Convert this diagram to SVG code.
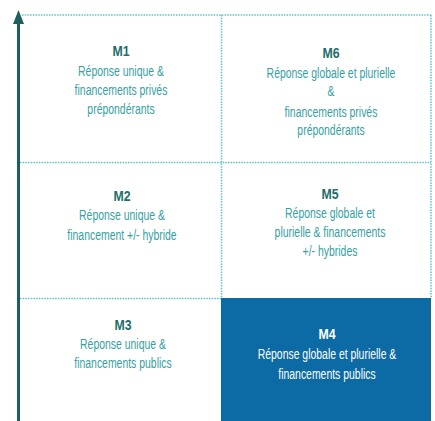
<svg xmlns="http://www.w3.org/2000/svg" width="435" height="421" viewBox="0 0 435 421">
  <style>
    .grid { stroke: #5fc2c6; stroke-width: 1.5; stroke-dasharray: 1.5 1.2; fill: none; }
    .t { font-family: "Liberation Sans", Arial, sans-serif; font-size: 14.5px; text-anchor: middle; fill: #35a1a3; }
    .h { font-weight: bold; fill: #1f6e6c; font-size: 14px; }
    .w { fill: #ffffff; }
  </style>
  <rect x="0" y="0" width="435" height="421" fill="#ffffff"/>
  <g id="grid">
    <line class="grid" x1="22" y1="15" x2="431" y2="15"/>
    <line class="grid" x1="20" y1="162.5" x2="431" y2="162.5"/>
    <line class="grid" x1="20" y1="298.5" x2="221" y2="298.5"/>
    <line class="grid" x1="221.5" y1="15" x2="221.5" y2="298"/>
    <line class="grid" x1="431" y1="15" x2="431" y2="298"/>
  </g>
  <g id="M1">
    <text class="t h" transform="translate(121 56) scale(0.88 1)">M1</text>
    <text class="t" transform="translate(121 76) scale(0.72 1)">Réponse unique &amp;</text>
    <text class="t" transform="translate(121 95) scale(0.72 1)">financements privés</text>
    <text class="t" transform="translate(121 114) scale(0.72 1)">prépondérants</text>
  </g>
  <g id="M6">
    <text class="t h" transform="translate(331 58) scale(0.88 1)">M6</text>
    <text class="t" transform="translate(331 78) scale(0.72 1)">Réponse globale et plurielle</text>
    <text class="t" transform="translate(331 96) scale(0.72 1)">&amp;</text>
    <text class="t" transform="translate(331 117) scale(0.72 1)">financements privés</text>
    <text class="t" transform="translate(331 135) scale(0.72 1)">prépondérants</text>
  </g>
  <g id="M2">
    <text class="t h" transform="translate(122 201) scale(0.88 1)">M2</text>
    <text class="t" transform="translate(122 220) scale(0.72 1)">Réponse unique &amp;</text>
    <text class="t" transform="translate(122 240) scale(0.72 1)">financement +/- hybride</text>
  </g>
  <g id="M5">
    <text class="t h" transform="translate(330 199) scale(0.88 1)">M5</text>
    <text class="t" transform="translate(330 218) scale(0.72 1)">Réponse globale et</text>
    <text class="t" transform="translate(330 237) scale(0.72 1)">plurielle &amp; financements</text>
    <text class="t" transform="translate(330 256) scale(0.72 1)">+/- hybrides</text>
  </g>
  <g id="M3">
    <text class="t h" transform="translate(123 330) scale(0.88 1)">M3</text>
    <text class="t" transform="translate(123 349) scale(0.72 1)">Réponse unique &amp;</text>
    <text class="t" transform="translate(123 368) scale(0.72 1)">financements publics</text>
  </g>
  <g id="M4">
    <rect x="221" y="298" width="210" height="123" fill="#0c6aa5"/>
    <text class="t h w" transform="translate(327 339) scale(0.88 1)">M4</text>
    <text class="t w" transform="translate(327 359) scale(0.72 1)">Réponse globale et plurielle &amp;</text>
    <text class="t w" transform="translate(327 379) scale(0.72 1)">financements publics</text>
  </g>
  <g id="connectors">
    <line x1="18.5" y1="421" x2="18.5" y2="22" stroke="#1c5f5b" stroke-width="3"/>
    <polygon points="18.5,10 13,24 24,24" fill="#1c5f5b"/>
  </g>
</svg>
